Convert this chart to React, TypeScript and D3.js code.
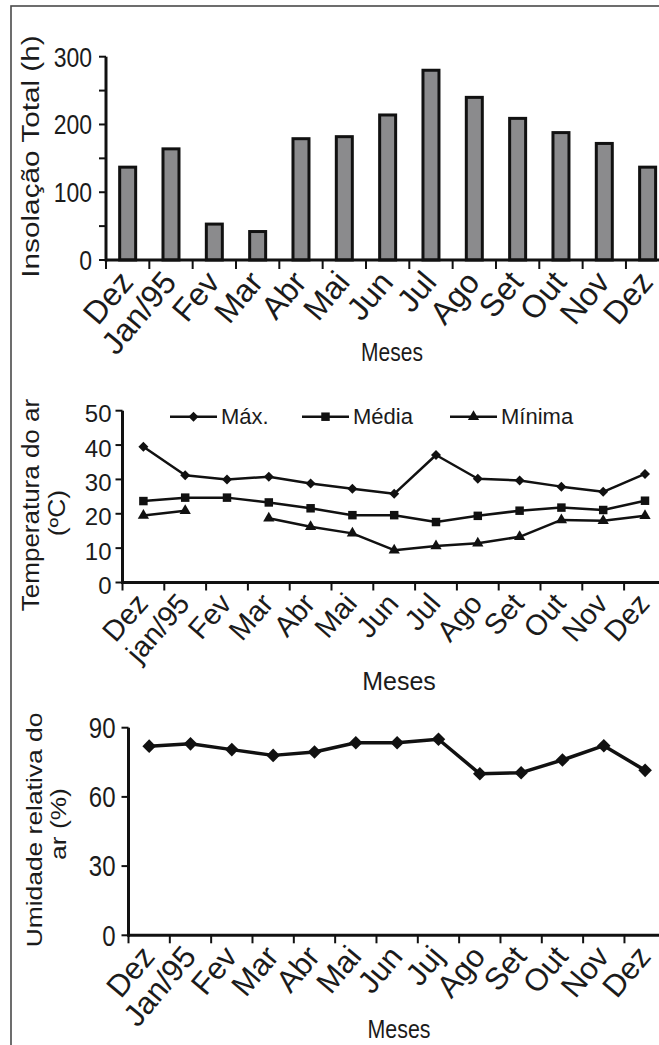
import React from "react";
import * as d3 from "d3";

// Month labels of each panel
const mesesInsol = ["Dez", "Jan/95", "Fev", "Mar", "Abr", "Mai", "Jun", "Jul", "Ago", "Set", "Out", "Nov", "Dez"];
const mesesTemp = ["Dez", "jan/95", "Fev", "Mar", "Abr", "Mai", "Jun", "Jul", "Ago", "Set", "Out", "Nov", "Dez"];
const mesesUmid = ["Dez", "Jan/95", "Fev", "Mar", "Abr", "Mai", "Jun", "Juj", "Ago", "Set", "Out", "Nov", "Dez"];

// Insolação total (h)
const insolacao = [137, 164, 53, 42, 179, 182, 214, 280, 240, 209, 188, 172, 137];
const insolTicks = [0, 50, 100, 150, 200, 250, 300];
const insolLabels = [0, 100, 200, 300];

// Temperatura do ar (ºC)
const tempMax = [39.5, 31.2, 30.0, 30.8, 28.8, 27.3, 25.8, 37.1, 30.2, 29.7, 27.9, 26.4, 31.6];
const tempMedia = [23.7, 24.7, 24.7, 23.3, 21.6, 19.6, 19.6, 17.6, 19.4, 20.9, 21.8, 21.1, 23.8];
const tempMin: (number | null)[] = [19.5, 20.9, null, 18.7, 16.2, 14.3, 9.4, 10.6, 11.4, 13.3, 18.2, 18.0, 19.4];
const tempTicks = [0, 10, 20, 30, 40, 50];

// Umidade relativa do ar (%)
const umidade = [82, 83, 80.5, 78, 79.5, 83.5, 83.5, 85, 70, 70.5, 76, 82.2, 71.5];
const umidTicks = [0, 30, 60, 90];

const FONT = "'Liberation Sans', Arial, Helvetica, sans-serif";
const INK = "#1b1b1b";

const diamond = {
  draw(ctx: any, size: number) {
    const r = Math.sqrt(size / 2);
    ctx.moveTo(0, -r);
    ctx.lineTo(r, 0);
    ctx.lineTo(0, r);
    ctx.lineTo(-r, 0);
    ctx.closePath();
  },
};

type LabelProps = {
  x: number;
  y: number;
  size: number;
  rot?: number;
  sy?: number;
  anchor?: "start" | "middle" | "end";
  dy?: string;
  len?: number;
  children: React.ReactNode;
};

function Label({ x, y, size, rot = 0, sy = 1, anchor = "middle", dy, len, children }: LabelProps) {
  return (
    <text
      transform={`translate(${x},${y}) scale(1,${sy}) rotate(${rot})`}
      fontSize={size}
      textAnchor={anchor}
      dy={dy}
      textLength={len}
      lengthAdjust={len ? "spacingAndGlyphs" : undefined}
      fill={INK}
    >
      {children}
    </text>
  );
}

function XAxis({ x, y, labels, size, rot, dx, dyOff, tickLen }: any) {
  const [r0, r1] = x.range();
  const step = x.step();
  const bounds = d3.range(labels.length + 1).map((k) => r0 + k * step);
  return (
    <g>
      <line x1={r0} x2={r1 + 20} y1={y} y2={y} stroke="#111" strokeWidth={3} />
      {bounds.map((bx, i) => (
        <line key={i} x1={bx} x2={bx} y1={y} y2={y + tickLen} stroke="#111" strokeWidth={2} />
      ))}
      {labels.map((m: string, i: number) => (
        <Label key={i} x={(x(i) as number) + x.bandwidth() / 2 + dx} y={y + dyOff} size={size} rot={rot} anchor="end">
          {m}
        </Label>
      ))}
    </g>
  );
}

function YAxis({ x, y, ticks, labels, size, sy, gap, labelShift = 0 }: any) {
  const [d0, d1] = y.domain();
  return (
    <g>
      <line x1={x} x2={x} y1={y(d0) + 1.5} y2={y(d1)} stroke="#111" strokeWidth={3} />
      {ticks.map((t: number) => (
        <line key={t} x1={x - 7} x2={x} y1={y(t)} y2={y(t)} stroke="#111" strokeWidth={2} />
      ))}
      {labels.map((t: number) => (
        <Label key={t} x={x - 7 - gap} y={y(t) + labelShift} size={size} sy={sy} anchor="end" dy="0.36em">
          {t}
        </Label>
      ))}
    </g>
  );
}

export default function App() {
  // Panel 1: insolação (bars)
  const x1 = d3.scaleBand<number>().domain(d3.range(13)).range([106, 106 + 13 * 43.33]);
  const y1 = d3.scaleLinear().domain([0, 300]).range([260, 56.7]);
  const barW = 16;

  // Panel 2: temperatura (lines)
  const x2 = d3.scaleBand<number>().domain(d3.range(13)).range([122.5, 122.5 + 13 * 41.8]);
  const y2 = d3.scaleLinear().domain([0, 50]).range([582.5, 410.7]);
  const cx2 = (i: number) => (x2(i) as number) + x2.bandwidth() / 2;
  const line2 = d3
    .line<number | null>()
    .defined((d) => d !== null)
    .x((_, i) => cx2(i))
    .y((d) => y2(d as number));

  // Panel 3: umidade (line)
  const x3 = d3.scaleBand<number>().domain(d3.range(13)).range([128.5, 128.5 + 13 * 41.33]);
  const y3 = d3.scaleLinear().domain([0, 90]).range([935.3, 727.7]);
  const cx3 = (i: number) => (x3(i) as number) + x3.bandwidth() / 2;
  const line3 = d3
    .line<number>()
    .x((_, i) => cx3(i))
    .y((d) => y3(d));

  const symDiamond = d3.symbol().type(diamond as any).size(50)();
  const symDiamondBig = d3.symbol().type(diamond as any).size(92)();
  const symSquare = d3.symbol().type(d3.symbolSquare).size(72)();
  const symTriangle = d3.symbol().type(d3.symbolTriangle).size(55)();

  const series = [
    { name: "Máx.", values: tempMax as (number | null)[], sym: symDiamond, lx: 170 },
    { name: "Média", values: tempMedia as (number | null)[], sym: symSquare, lx: 302 },
    { name: "Mínima", values: tempMin, sym: symTriangle, lx: 450 },
  ];

  return (
    <svg
      width={659}
      height={1045}
      style={{ position: "absolute", left: 0, top: 0, background: "#fff" }}
      fontFamily={FONT}
    >
      <rect x={0} y={0} width={659} height={1045} fill="#fff" />
      {/* figure frame */}
      <rect x={11} y={6} width={700} height={1100} fill="none" stroke="#4a4a4a" strokeWidth={1.6} />

      {/* ---------- Insolação total ---------- */}
      <g>
        {insolacao.map((v, i) => (
          <rect
            key={i}
            x={(x1(i) as number) + x1.bandwidth() / 2 - barW / 2}
            y={y1(v)}
            width={barW}
            height={y1(0) - y1(v)}
            fill="#8b8b8d"
            stroke="#111"
            strokeWidth={3}
          />
        ))}
        <YAxis x={106} y={y1} ticks={insolTicks} labels={insolLabels} size={23} sy={1.2} gap={7} />
        <XAxis x={x1} y={260} labels={mesesInsol} size={32} rot={-50} dx={7} dyOff={23} tickLen={9} />
        <Label x={39} y={156.5} size={24} rot={-90} sy={1.2} len={202}>
          Insolação Total (h)
        </Label>
        <Label x={392} y={361} size={21} sy={1.2}>
          Meses
        </Label>
      </g>

      {/* ---------- Temperatura do ar ---------- */}
      <g>
        {series.map((s) => (
          <g key={s.name}>
            <path d={line2(s.values) || ""} fill="none" stroke="#111" strokeWidth={2.5} strokeLinejoin="round" />
            {s.values.map((v, i) =>
              v === null ? null : (
                <path key={i} d={s.sym || ""} transform={`translate(${cx2(i)},${y2(v)})`} fill="#111" />
              )
            )}
          </g>
        ))}
        <YAxis x={122.5} y={y2} ticks={tempTicks} labels={tempTicks} size={24} sy={1} gap={4} labelShift={3} />
        <XAxis x={x2} y={582.5} labels={mesesTemp} size={29} rot={-49} dx={6} dyOff={22} tickLen={8} />
        {/* legend */}
        {series.map((s) => (
          <g key={s.name}>
            <line x1={s.lx} x2={s.lx + 47} y1={416.7} y2={416.7} stroke="#111" strokeWidth={2.5} />
            <path d={s.sym || ""} transform={`translate(${s.lx + 23.5},416.7)`} fill="#111" />
            <Label x={s.lx + 51} y={424.3} size={22} anchor="start">
              {s.name}
            </Label>
          </g>
        ))}
        <Label x={38.5} y={505} size={23} rot={-90} sy={1.13}>
          Temperatura do ar
        </Label>
        <Label x={65} y={513} size={23} rot={-90} sy={1.15}>
          (ºC)
        </Label>
        <Label x={399} y={690} size={25} sy={1}>
          Meses
        </Label>
      </g>

      {/* ---------- Umidade relativa ---------- */}
      <g>
        <path d={line3(umidade) || ""} fill="none" stroke="#111" strokeWidth={3.5} strokeLinejoin="round" />
        {umidade.map((v, i) => (
          <path key={i} d={symDiamondBig || ""} transform={`translate(${cx3(i)},${y3(v)})`} fill="#111" />
        ))}
        <YAxis x={128.5} y={y3} ticks={umidTicks} labels={umidTicks} size={24} sy={1.2} gap={6} />
        <XAxis x={x3} y={935.3} labels={mesesUmid} size={31} rot={-50} dx={7} dyOff={22} tickLen={8} />
        <Label x={42} y={830} size={22} rot={-90} sy={1.2}>
          Umidade relativa do
        </Label>
        <Label x={66} y={824} size={22} rot={-90} sy={1.2}>
          ar (%)
        </Label>
        <Label x={399} y={1038} size={21.4} sy={1.2}>
          Meses
        </Label>
      </g>
    </svg>
  );
}
